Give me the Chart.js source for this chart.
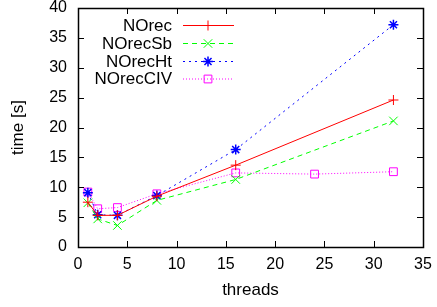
<!DOCTYPE html>
<html><head><meta charset="utf-8">
<script src="https://cdn.jsdelivr.net/npm/chart.js@4"></script>
<style>html,body{margin:0;padding:0;background:#fff}#wrap{width:437px;height:307px}</style>
</head><body><div id="wrap"><canvas id="c" width="437" height="307"></canvas></div>
<script>
const seriesNames = ["NOrec", "NOrecSb", "NOrecHt", "NOrecCIV"];
const threadsA = [1, 2, 4, 8, 16, 32];
const threadsCIV = [1, 2, 4, 8, 16, 24, 32];
const norec = [7.5, 5.3, 5.3, 8.5, 13.7, 24.6];
const norecSb = [7.4, 4.7, 3.6, 7.8, 11.3, 21.1];
const norecHt = [9.1, 5.4, 5.3, 8.6, 16.3, 37.2];
const norecCIV = [9.2, 6.4, 6.6, 8.9, 12.4, 12.2, 12.6];
const xTicks = [0, 5, 10, 15, 20, 25, 30, 35];
const yTicks = [0, 5, 10, 15, 20, 25, 30, 35, 40];

const FONT = "'Liberation Sans', Arial, sans-serif";
const pts = (xs, ys) => xs.map((x, i) => ({x: x, y: ys[i]}));

const boxTicks = {
  id: 'boxTicks',
  afterDatasetsDraw(chart) {
    const ctx = chart.ctx, a = chart.chartArea;
    const xs = chart.scales.x, ys = chart.scales.y;
    ctx.save();
    ctx.strokeStyle = '#000';
    ctx.lineWidth = 1;
    const L = 6;
    ctx.beginPath();
    xTicks.forEach(v => {
      const px = Math.round(xs.getPixelForValue(v)) + 0.5;
      ctx.moveTo(px, a.bottom); ctx.lineTo(px, a.bottom - L);
      ctx.moveTo(px, a.top); ctx.lineTo(px, a.top + L);
    });
    yTicks.forEach(v => {
      const py = Math.round(ys.getPixelForValue(v)) + 0.5;
      ctx.moveTo(a.left, py); ctx.lineTo(a.left + L, py);
      ctx.moveTo(a.right, py); ctx.lineTo(a.right - L, py);
    });
    ctx.stroke();
    ctx.lineWidth = 1.5;
    ctx.strokeRect(Math.round(a.left) + 0.5, Math.round(a.top) + 0.5, Math.round(a.right - a.left), Math.round(a.bottom - a.top));
    // legend
    ctx.font = '17px ' + FONT;
    ctx.textAlign = 'right';
    ctx.textBaseline = 'middle';
    const rows = [25, 43, 61, 78.5];
    chart.data.datasets.forEach((ds, i) => {
      const y = rows[i];
      ctx.fillStyle = '#000';
      ctx.fillText(ds.label, 172, y + 1);
      ctx.strokeStyle = ds.borderColor;
      ctx.lineWidth = 1;
      ctx.setLineDash(ds.borderDash || []);
      ctx.beginPath(); ctx.moveTo(183, y + 0.5); ctx.lineTo(234, y + 0.5); ctx.stroke();
      ctx.setLineDash([]);
      ctx.fillStyle = 'rgba(0,0,0,0)';
      ctx.strokeStyle = ds.borderColor;
      ctx.lineWidth = ds.pointBorderWidth || 1;
      Chart.helpers.drawPoint(ctx, {
        pointStyle: ds.pointStyle, radius: ds.pointRadius, rotation: 0,
        borderWidth: ds.pointBorderWidth || 1
      }, 208, y + 0.5);
    });
    ctx.restore();
  }
};

const common = {showLine: true, fill: false, borderWidth: 1, pointBorderWidth: 1, pointRadius: 5, backgroundColor: 'rgba(0,0,0,0)', pointBackgroundColor: 'rgba(0,0,0,0)', tension: 0};

new Chart(document.getElementById('c'), {
  type: 'scatter',
  data: {
    datasets: [
      Object.assign({}, common, {label: seriesNames[0], data: pts(threadsA, norec), borderColor: '#ff0000', pointBorderColor: '#ff0000', pointStyle: 'cross'}),
      Object.assign({}, common, {label: seriesNames[1], data: pts(threadsA, norecSb), borderColor: '#00ff00', pointBorderColor: '#00ff00', pointStyle: 'crossRot', borderDash: [5, 4], pointRadius: 6}),
      Object.assign({}, common, {label: seriesNames[2], data: pts(threadsA, norecHt), borderColor: '#0000ff', pointBorderColor: '#0000ff', pointStyle: 'star', borderDash: [2, 4], pointBorderWidth: 1.5}),
      Object.assign({}, common, {label: seriesNames[3], data: pts(threadsCIV, norecCIV), borderColor: '#ff00ff', pointBorderColor: '#ff00ff', pointStyle: 'rect', borderDash: [1, 2], pointRadius: 5.5})
    ]
  },
  options: {
    responsive: false, animation: false,
    layout: {padding: {top: 8, right: 14, left: 0, bottom: 0}},
    plugins: {legend: {display: false}, tooltip: {enabled: false}},
    scales: {
      x: {
        type: 'linear', min: 0, max: 35,
        afterFit: s => { s.height = 60; s.paddingLeft = 0; s.paddingRight = 0; },
        afterBuildTicks: s => { s.ticks = xTicks.map(v => ({value: v})); },
        grid: {display: false, drawTicks: false},
        border: {display: false},
        ticks: {color: '#000', font: {family: FONT, size: 16, lineHeight: 1.0}, padding: 10, maxRotation: 0},
        title: {display: true, text: 'threads', color: '#000', font: {family: FONT, size: 17}, padding: {top: 0, bottom: 6}}
      },
      y: {
        type: 'linear', min: 0, max: 40,
        afterFit: s => { s.width = 78; s.paddingTop = 0; s.paddingBottom = 0; },
        afterBuildTicks: s => { s.ticks = yTicks.map(v => ({value: v})); },
        grid: {display: false, drawTicks: false},
        border: {display: false},
        ticks: {color: '#000', font: {family: FONT, size: 16, lineHeight: 1.0}, padding: 11},
        title: {display: true, text: 'time [s]', color: '#000', font: {family: FONT, size: 17}, padding: {top: 8, bottom: 0}}
      }
    }
  },
  plugins: [boxTicks]
});
</script>
</body></html>
